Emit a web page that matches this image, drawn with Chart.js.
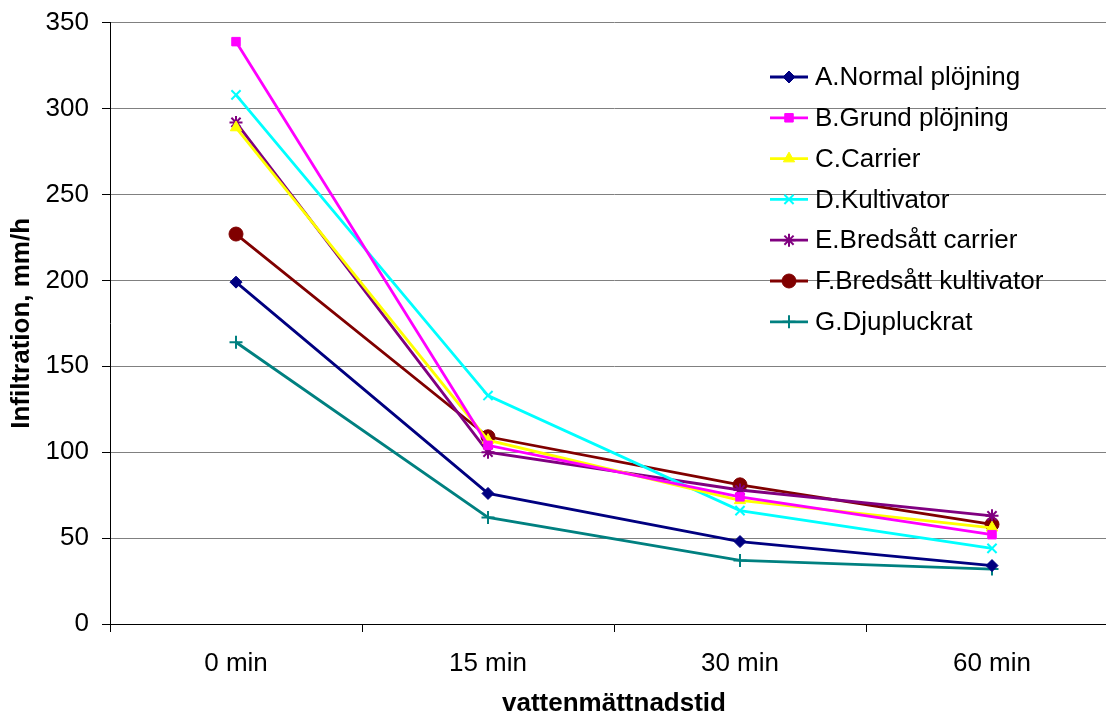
<!DOCTYPE html>
<html>
<head>
<meta charset="utf-8">
<script src="https://cdn.jsdelivr.net/npm/chart.js@4.4.1/dist/chart.umd.min.js"></script>
<style>
    html, body { margin: 0; padding: 0; background: #fff; overflow: hidden; }
    #wrap { width: 1130px; height: 715px; }
</style>
</head>
<body>
<div id="wrap"><canvas id="infChart" width="1130" height="715"></canvas></div>
<script>
// Kategorier (x-axel)
const categories = ['0 min', '15 min', '30 min', '60 min'];

// Serienamn och värden, mm/h
const seriesNames = [
    'A.Normal plöjning',
    'B.Grund plöjning',
    'C.Carrier',
    'D.Kultivator',
    'E.Bredsått carrier',
    'F.Bredsått kultivator',
    'G.Djupluckrat'
];
const normalPlojning = [199, 76, 48, 34];
const grundPlojning = [339, 104, 74, 52];
const carrier = [289, 107, 72, 56];
const kultivator = [308, 133, 66, 44];
const bredsattCarrier = [292, 100, 78, 63];
const bredsattKultivator = [227, 109, 81, 58];
const djupluckrat = [164, 62, 37, 32];

// Y-axelns skalsteg
const yTicks = [0, 50, 100, 150, 200, 250, 300, 350];

const allValues = [normalPlojning, grundPlojning, carrier, kultivator, bredsattCarrier, bredsattKultivator, djupluckrat];
const colors = ['#000080', '#FF00FF', '#FFFF00', '#00FFFF', '#800080', '#800000', '#008080'];
const styles = ['rectRot', 'rect', 'triangle', 'crossRot', 'star', 'circle', 'cross'];
const radii = [6, 6, 6.5, 6.5, 6.5, 7, 6.5];

const FONT = 'Arial, "Liberation Sans", sans-serif';

function markerBorder(style) {
    return (style === 'crossRot' || style === 'cross' || style === 'star') ? 2 : 1;
}

const datasets = seriesNames.map((name, i) => ({
    label: name,
    data: allValues[i],
    borderColor: colors[i],
    backgroundColor: colors[i],
    borderWidth: 2.8,
    pointStyle: styles[i],
    pointRadius: radii[i],
    pointBorderWidth: markerBorder(styles[i]),
    pointBorderColor: colors[i],
    pointBackgroundColor: colors[i],
    tension: 0,
    fill: false
}));

// Förklaring ritad inne i diagramytan
const insideLegend = {
    id: 'insideLegend',
    afterDraw(chart) {
        const c = chart.ctx;
        const x0 = 770, y0 = 77, step = 40.8;
        c.save();
        c.font = '26px ' + FONT;
        c.textBaseline = 'middle';
        seriesNames.forEach((name, i) => {
            const y = y0 + i * step;
            c.strokeStyle = colors[i];
            c.fillStyle = colors[i];
            c.lineWidth = 2.8;
            c.beginPath();
            c.moveTo(x0, y);
            c.lineTo(x0 + 38, y);
            c.stroke();
            const bw = markerBorder(styles[i]);
            c.lineWidth = bw;
            Chart.helpers.drawPoint(c, { pointStyle: styles[i], radius: radii[i], rotation: 0, borderWidth: bw }, x0 + 19, y);
            c.fillStyle = '#000';
            c.fillText(name, x0 + 45, y + 1);
        });
        c.restore();
    }
};

const ctx = document.getElementById('infChart').getContext('2d');
new Chart(ctx, {
    type: 'line',
    data: { labels: categories, datasets: datasets },
    options: {
        responsive: false,
        animation: false,
        devicePixelRatio: 1,
        layout: { padding: { left: 0, right: 12, top: 16, bottom: 0 } },
        plugins: {
            legend: { display: false },
            tooltip: { enabled: false }
        },
        scales: {
            x: {
                offset: true,
                grid: {
                    offset: true,
                    drawOnChartArea: false,
                    drawTicks: true,
                    tickLength: 8,
                    tickColor: '#000'
                },
                border: { color: '#000', width: 1 },
                ticks: {
                    color: '#000',
                    font: { family: FONT, size: 26 },
                    padding: 16,
                    maxRotation: 0
                },
                title: {
                    display: true,
                    text: 'vattenmättnadstid',
                    color: '#000',
                    font: { family: FONT, size: 26, weight: 'bold', lineHeight: 0.85 },
                    padding: { top: 0, bottom: 0 }
                },
                afterFit(scale) { scale.height = 91; }
            },
            y: {
                min: 0,
                max: 350,
                afterBuildTicks(scale) { scale.ticks = yTicks.map(v => ({ value: v })); },
                grid: {
                    color: '#808080',
                    lineWidth: 1,
                    drawTicks: true,
                    tickLength: 8,
                    tickColor: '#000'
                },
                border: { color: '#000', width: 1 },
                ticks: {
                    color: '#000',
                    font: { family: FONT, size: 26, lineHeight: 0.75 },
                    padding: 13
                },
                title: {
                    display: true,
                    text: 'Infiltration, mm/h',
                    color: '#000',
                    font: { family: FONT, size: 26, weight: 'bold' },
                    padding: { top: 6, bottom: 0 }
                },
                afterFit(scale) { scale.width = 110; }
            }
        }
    },
    plugins: [insideLegend]
});
</script>
</body>
</html>
